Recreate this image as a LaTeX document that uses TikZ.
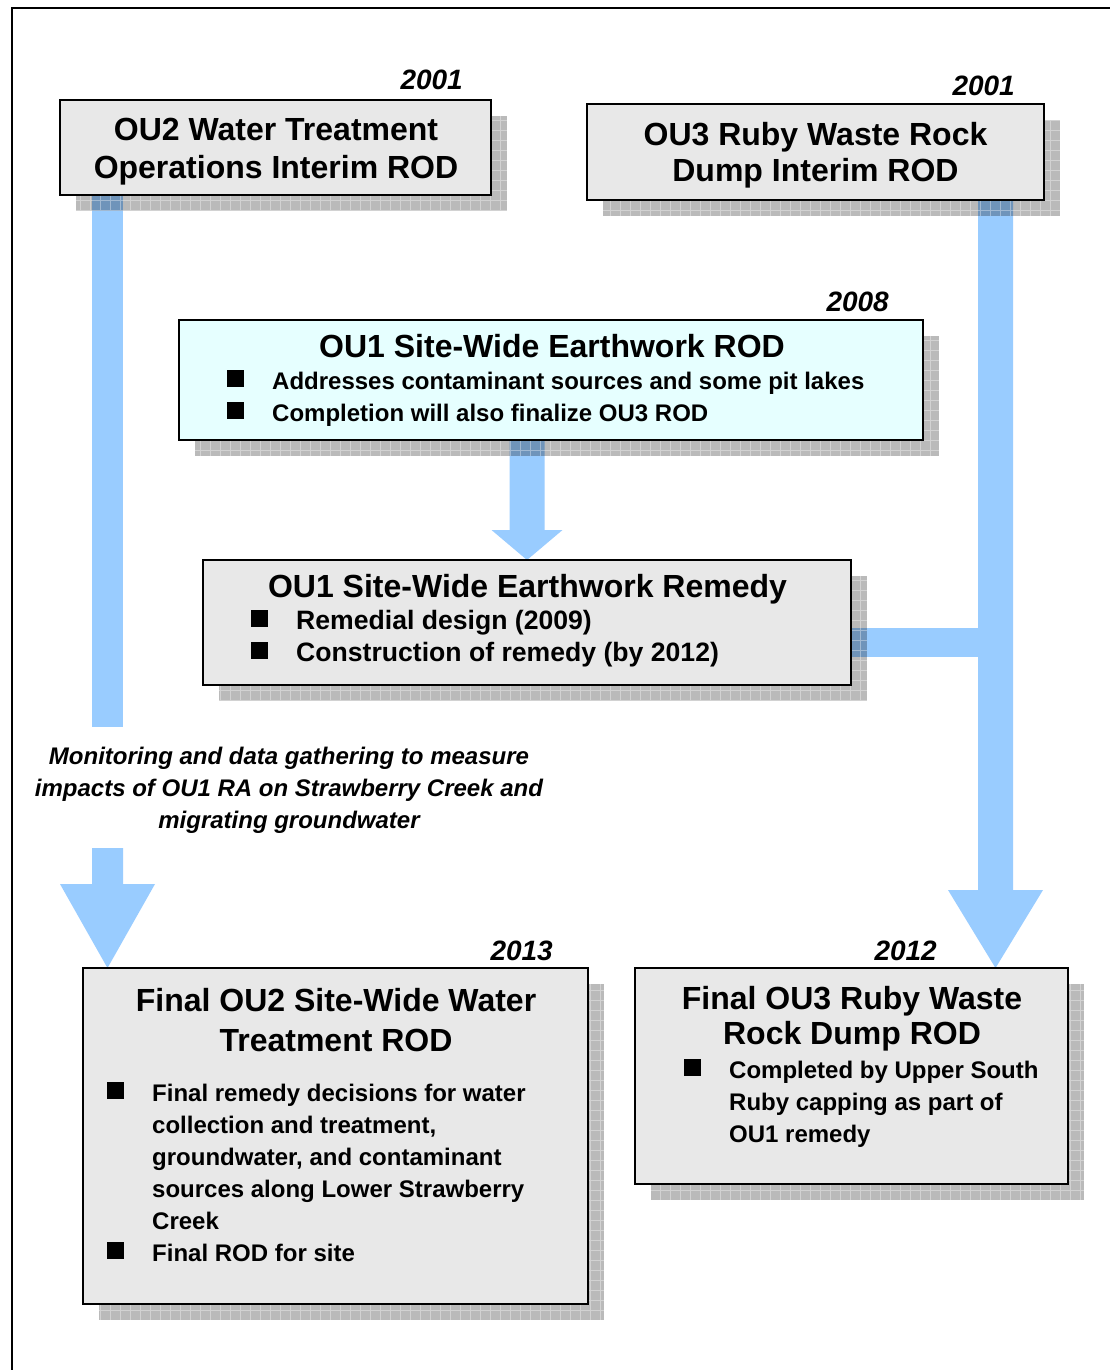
\documentclass[tikz,border=0pt]{standalone}
\usepackage{fontspec}
\setmainfont{Liberation Sans}
\usetikzlibrary{calc}
\definecolor{flowblue}{RGB}{153,204,255}
\definecolor{boxgray}{RGB}{232,232,232}
\definecolor{boxcyan}{RGB}{230,255,255}
\pgfdeclarelayer{bg}
\pgfdeclarelayer{mid}
\pgfsetlayers{bg,mid,main}
\newcommand{\shadowfor}[1]{%
  \begin{scope}
    \clip ($(#1.south west)+(16,16)$) rectangle ($(#1.north east)+(16,16)$);
    \fill[shadowfill] ($(#1.south west)+(16,16)$) rectangle ($(#1.north east)+(16,16)$);
    \draw[gridline,step=10pt] ($(#1.south west)+(16,16)$) grid ($(#1.north east)+(16,16)$);
  \end{scope}}
\begin{document}
\begin{tikzpicture}[x=1pt,y=-1pt,
  box/.style={draw=black,line width=1.6pt,fill=boxgray,inner sep=0pt,outer sep=0pt},
  flow/.style={fill=flowblue},
  shadowfill/.style={fill=black,fill opacity=0.27},
  gridline/.style={draw=white,draw opacity=0.35,line width=0.8pt},
  tline/.style={inner sep=0pt,anchor=base,font=\fontsize{32}{38}\selectfont\bfseries},
  bline/.style={inner sep=0pt,anchor=base west,font=\fontsize{24}{32}\selectfont\bfseries},
  bbig/.style={inner sep=0pt,anchor=base west,font=\fontsize{26.6}{32}\selectfont\bfseries},
  yr/.style={inner sep=0pt,anchor=base east,font=\fontsize{28}{32}\selectfont\bfseries\itshape},
  mline/.style={inner sep=0pt,anchor=base,font=\fontsize{24}{32}\selectfont\bfseries\itshape},
  bsq/.style={fill=black},
  frame/.style={draw=black,line width=2pt}]

\useasboundingbox (0,0) rectangle (1110,1370);

% boxes
\node[box,minimum width=431pt,minimum height=95pt] (ou2) at (275.5,147.5) {};
\node[box,minimum width=457pt,minimum height=96pt] (ou3) at (815.5,152) {};
\node[box,fill=boxcyan,minimum width=744pt,minimum height=120pt] (rod) at (551,380) {};
\node[box,minimum width=648pt,minimum height=125pt] (rem) at (527,622.5) {};
\node[box,minimum width=505pt,minimum height=336pt] (fo2) at (335.5,1136) {};
\node[box,minimum width=433pt,minimum height=216pt] (fo3) at (851.5,1076) {};

% helper coordinates
\coordinate (gapTop) at (107.5,727);
\coordinate (gapBot) at (107.5,848);
\coordinate (rj) at (995.5,642.5);

\begin{pgfonlayer}{bg}
  \fill[white] (0,0) rectangle (1110,1370);
  \draw[frame] (12,1380) -- (12,8) -- (1120,8);
  % left flow OU2 -> final OU2
  \fill[flow] ($(ou2.south -| gapTop)+(-15.5,0)$) rectangle ($(gapTop)+(15.5,0)$);
  \fill[flow] ($(gapBot)+(-15.5,0)$) -- ($(gapBot)+(15.5,0)$) -- ($(gapBot)+(15.5,36)$)
     -- ($(gapBot)+(47.5,36)$) -- (fo2.north -| gapBot) -- ($(gapBot)+(-47.5,36)$)
     -- ($(gapBot)+(-15.5,36)$) -- cycle;
  % right flow OU3 -> final OU3
  \fill[flow] ($(ou3.south -| rj)+(-17.5,0)$) -- ($(ou3.south -| rj)+(17.5,0)$)
     -- ($(fo3.north -| rj)+(17.5,-78)$) -- ($(fo3.north -| rj)+(47.5,-78)$)
     -- (fo3.north -| rj) -- ($(fo3.north -| rj)+(-47.5,-78)$)
     -- ($(fo3.north -| rj)+(-17.5,-78)$) -- cycle;
  % remedy -> right flow
  \fill[flow] ($(rem.east |- rj)+(0,-14.5)$) rectangle ($(rj)+(0,14.5)$);
  % ROD -> remedy
  \fill[flow] ($(rod.south -| rem.north)+(-17.5,0)$) -- ($(rod.south -| rem.north)+(17.5,0)$)
     -- ($(rem.north)+(17.5,-30)$) -- ($(rem.north)+(35.5,-30)$) -- (rem.north)
     -- ($(rem.north)+(-35.5,-30)$) -- ($(rem.north)+(-17.5,-30)$) -- cycle;
\end{pgfonlayer}

\begin{pgfonlayer}{mid}
  \shadowfor{ou2}
  \shadowfor{ou3}
  \shadowfor{rod}
  \shadowfor{rem}
  \shadowfor{fo2}
  \shadowfor{fo3}
\end{pgfonlayer}

% years
\node[yr] (y1) at (463,90) {2001};
\node[yr] (y2) at (1015,96) {2001};
\node[yr] (y3) at (889,311) {2008};
\node[yr] (y4) at (553,960) {2013};
\node[yr] (y5) at (937,960) {2012};

% titles
\node[tline] (t1a) at (276,140.5) {OU2 Water Treatment};
\node[tline] (t1b) at (276,178.5) {Operations Interim ROD};
\node[tline] (t2a) at (815.5,145.5) {OU3 Ruby Waste Rock};
\node[tline] (t2b) at (815.5,181.5) {Dump Interim ROD};
\node[tline] (t3) at (552,357.5) {OU1 Site-Wide Earthwork ROD};
\node[tline] (t4) at (527.5,597.5) {OU1 Site-Wide Earthwork Remedy};
\node[tline] (t5a) at (336,1011.5) {Final OU2 Site-Wide Water};
\node[tline] (t5b) at (336,1051.5) {Treatment ROD};
\node[tline] (t6a) at (852,1009.5) {Final OU3 Ruby Waste};
\node[tline] (t6b) at (852,1044.5) {Rock Dump ROD};

% bullets: ROD
\fill[bsq] (227,369.6) rectangle (244,386.6);
\fill[bsq] (227,401.6) rectangle (244,418.6);
\node[bline] (b3a) at (272,389.6) {Addresses contaminant sources and some pit lakes};
\node[bline] (b3b) at (272,421.6) {Completion will also finalize OU3 ROD};

% bullets: remedy
\fill[bsq] (251,610) rectangle (268,627);
\fill[bsq] (251,642) rectangle (268,659);
\node[bbig] (b4a) at (296,629.5) {Remedial design (2009)};
\node[bbig] (b4b) at (296,661.5) {Construction of remedy (by 2012)};

% bullets: final OU2
\fill[bsq] (107,1081.6) rectangle (124,1098.6);
\fill[bsq] (107,1241.6) rectangle (124,1258.6);
\node[bline] (b5a) at (152,1101.6) {Final remedy decisions for water};
\node[bline] (b5b) at (152,1133.6) {collection and treatment,};
\node[bline] (b5c) at (152,1165.6) {groundwater, and contaminant};
\node[bline] (b5d) at (152,1197.6) {sources along Lower Strawberry};
\node[bline] (b5e) at (152,1229.6) {Creek};
\node[bline] (b5f) at (152,1261.6) {Final ROD for site};

% bullets: final OU3
\fill[bsq] (684,1058.6) rectangle (701,1075.6);
\node[bline] (b6a) at (729,1078.6) {Completed by Upper South};
\node[bline] (b6b) at (729,1110.6) {Ruby capping as part of};
\node[bline] (b6c) at (729,1142.6) {OU1 remedy};

% monitoring text
\node[mline] (m1) at (289,764.6) {Monitoring and data gathering to measure};
\node[mline] (m2) at (289,796.6) {impacts of OU1 RA on Strawberry Creek and};
\node[mline] (m3) at (289,828.6) {migrating groundwater};
\end{tikzpicture}
\end{document}
